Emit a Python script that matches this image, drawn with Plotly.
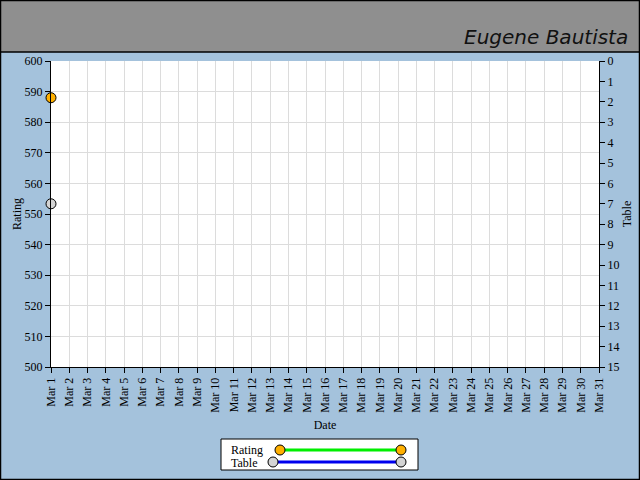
import plotly.graph_objects as go

# data
DAYS = ["Mar 1", "Mar 2", "Mar 3", "Mar 4", "Mar 5", "Mar 6", "Mar 7", "Mar 8",
        "Mar 9", "Mar 10", "Mar 11", "Mar 12", "Mar 13", "Mar 14", "Mar 15",
        "Mar 16", "Mar 17", "Mar 18", "Mar 19", "Mar 20", "Mar 21", "Mar 22",
        "Mar 23", "Mar 24", "Mar 25", "Mar 26", "Mar 27", "Mar 28", "Mar 29",
        "Mar 30", "Mar 31"]
rating_dates = ["Mar 1"]
rating_vals = [588]
table_dates = ["Mar 1"]
table_vals = [7]

FONT = "Liberation Serif"
BG = "#a4c2dc"

# plot area in pixels
L, R, T, B = 51, 599, 61, 367


def px(x):
    return (x - L) / (R - L)


def py(y):
    return (B - y) / (B - T)


fig = go.Figure()
fig.add_trace(go.Scatter(x=rating_dates, y=rating_vals, mode="lines+markers", name="Rating",
                         line=dict(color="#00ee00", width=3),
                         marker=dict(size=10, color="#ffb000", line=dict(color="#000", width=1)),
                         cliponaxis=False, yaxis="y"))
fig.add_trace(go.Scatter(x=table_dates, y=table_vals, mode="lines+markers", name="Table",
                         line=dict(color="#0000ee", width=3),
                         marker=dict(size=10, color="#d4d4d4", line=dict(color="#000", width=1)),
                         cliponaxis=False, yaxis="y2"))

shapes = [
    # header band
    dict(type="rect", xref="paper", yref="paper", x0=px(0), x1=px(640), y0=py(0), y1=py(52),
         fillcolor="#8f8f8f", line=dict(color="#000", width=1.5), layer="below"),
    # outer border
    dict(type="rect", xref="paper", yref="paper", x0=px(0.5), x1=px(639.5), y0=py(0.5), y1=py(479.5),
         fillcolor="rgba(0,0,0,0)", line=dict(color="#000", width=1.5)),
    # legend box
    dict(type="rect", xref="paper", yref="paper", x0=px(221), x1=px(418), y0=py(439), y1=py(470),
         fillcolor="white", line=dict(color="#000", width=1)),
    dict(type="line", xref="paper", yref="paper", x0=px(280), x1=px(401), y0=py(450), y1=py(450),
         line=dict(color="#00ee00", width=3)),
    dict(type="line", xref="paper", yref="paper", x0=px(273), x1=px(401), y0=py(462), y1=py(462),
         line=dict(color="#0000ee", width=3)),
]
for cx, cy, col in [(280, 450, "#ffb000"), (401, 450, "#ffb000"),
                    (273, 462, "#d4d4d4"), (401, 462, "#d4d4d4")]:
    shapes.append(dict(type="circle", xref="paper", yref="paper",
                       xsizemode="pixel", ysizemode="pixel",
                       xanchor=px(cx), yanchor=py(cy), x0=-5, x1=5, y0=-5, y1=5,
                       fillcolor=col, line=dict(color="#000", width=1)))

annotations = [
    dict(text="Eugene Bautista", xref="paper", yref="paper", x=px(630), y=py(37),
         xanchor="right", yanchor="middle", showarrow=False,
         font=dict(family="DejaVu Sans", size=20, color="#111", style="italic")),
    dict(text="Rating", xref="paper", yref="paper", x=px(229), y=py(450),
         xanchor="left", yanchor="middle", showarrow=False, font=dict(family=FONT, size=12, color="#000")),
    dict(text="Table", xref="paper", yref="paper", x=px(229), y=py(462.5),
         xanchor="left", yanchor="middle", showarrow=False, font=dict(family=FONT, size=12, color="#000")),
]

fig.update_layout(
    width=640, height=480,
    margin=dict(l=L, r=640 - R, t=T, b=480 - B, pad=0),
    paper_bgcolor=BG, plot_bgcolor="white",
    font=dict(family=FONT, size=12, color="#000"),
    showlegend=False,
    shapes=shapes, annotations=annotations,
    xaxis=dict(type="category", categoryorder="array", categoryarray=DAYS,
               tickvals=DAYS, ticktext=DAYS, range=[0, len(DAYS) - 1], tickangle=-90,
               showgrid=True, gridcolor="#dcdcdc", showline=True, linecolor="#000",
               ticks="outside", ticklen=5, tickcolor="#000", zeroline=False, automargin=False,
               title=dict(text="Date", standoff=8, font=dict(size=12))),
    yaxis=dict(range=[500, 600], dtick=10, showgrid=True, gridcolor="#dcdcdc",
               showline=True, linecolor="#000", ticks="outside", ticklen=5, tickcolor="#000",
               zeroline=False, automargin=False, title=dict(text="Rating", standoff=0, font=dict(size=12))),
    yaxis2=dict(range=[15, 0], dtick=1, overlaying="y", side="right", showgrid=False,
                showline=True, linecolor="#000", ticks="outside", ticklen=5, tickcolor="#000",
                zeroline=False, automargin=False, title=dict(text="Table", standoff=4, font=dict(size=12))),
)

fig.write_html("out.html", config={"displayModeBar": False},
               post_script="document.body.style.margin='0';")
